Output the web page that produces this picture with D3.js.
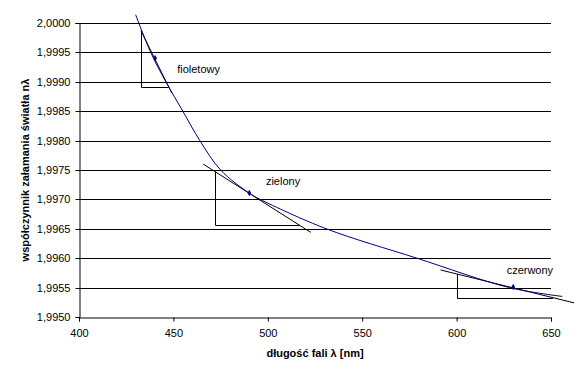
<!DOCTYPE html>
<html>
<head>
<meta charset="utf-8">
<script src="https://cdn.jsdelivr.net/npm/d3@7"></script>
<style>
  body { margin: 0; background: #fff; }
  svg { display: block; font-family: "Liberation Sans", Arial, sans-serif; }
</style>
</head>
<body>
<svg id="chart" width="580" height="385"></svg>
<script>
// wavelength [nm] and refractive index
const lambdas = [430, 438, 446, 455, 464, 475, 490, 496, 531, 579, 628, 656];
const indices = [2.00014, 1.9995, 1.9990, 1.9985, 1.9980, 1.9975, 1.99711, 1.9970, 1.9965, 1.9960, 1.9955, 1.99535];

// tangent points (markers) and their labels
const colourNames = ["fioletowy", "zielony", "czerwony"];
const markerLambdas = [440.3, 490.2, 630];
const markerIndices = [1.9994, 1.99711, 1.99551];

// tangent lines: start / end
const tangentStart = [[432.8, 1.99987], [465.8, 1.9976], [591.5, 1.9958]];
const tangentEnd = [[449.1, 1.99881], [522.7, 1.99644], [662.2, 1.99524]];

// triangles: vertical leg at x, from top to bottom, horizontal leg to xEnd
const triX = [432.8, 472, 600];
const triTop = [1.99987, 1.99747, 1.99573];
const triBottom = [1.99891, 1.99656, 1.99533];
const triXEnd = [447.6, 517, 651];

// label anchors (data coordinates)
const labelPos = [[452, 1.99915], [499, 1.99724], [626.5, 1.99573]];

const xTicks = [400, 450, 500, 550, 600, 650];
const yTicks = [1.995, 1.9955, 1.996, 1.9965, 1.997, 1.9975, 1.998, 1.9985, 1.999, 1.9995, 2.0];

const svg = d3.select("#chart");
const x = d3.scaleLinear().domain([400, 650]).range([79, 551]);
const y = d3.scaleLinear().domain([1.995, 2.0]).range([317, 23]);
const fmt = (v) => d3.format(".4f")(v).replace(".", ",");

// gridlines
svg.append("g")
  .selectAll("line")
  .data(yTicks.slice(1))
  .join("line")
  .attr("x1", x(400))
  .attr("x2", x(650))
  .attr("y1", (d) => Math.round(y(d)) + 0.5)
  .attr("y2", (d) => Math.round(y(d)) + 0.5)
  .attr("stroke", "#000")
  .attr("stroke-width", 1);

// axes
const yAxis = svg.append("g")
  .attr("transform", `translate(${Math.round(x(400)) + 0.5},0)`)
  .call(d3.axisLeft(y).tickValues(yTicks).tickFormat(fmt).tickSize(4).tickPadding(5));
const xAxis = svg.append("g")
  .attr("transform", `translate(0,${Math.round(y(1.995)) + 0.5})`)
  .call(d3.axisBottom(x).tickValues(xTicks).tickSize(4).tickPadding(8));

for (const axis of [yAxis, xAxis]) {
  axis.select(".domain").attr("stroke", "#000");
  axis.selectAll(".tick line").attr("stroke", "#000");
  axis.selectAll("text")
    .attr("fill", "#000")
    .style("font-size", "11px")
    .style("font-family", "'Liberation Sans', Arial, sans-serif");
}
yAxis.selectAll(".tick line").attr("y1", 0.5).attr("y2", 0.5);
yAxis.selectAll(".tick").attr("transform", (d) => `translate(0,${Math.round(y(d))})`);

// tangent triangles
const tri = svg.append("g").attr("fill", "none").attr("stroke", "#000").attr("stroke-width", 1);
tri.selectAll("path.leg")
  .data(triX)
  .join("path")
  .attr("class", "leg")
  .attr("d", (d, i) => {
    const vx = Math.round(x(d)) + 0.5;
    const by = Math.round(y(triBottom[i])) + 0.5;
    return `M${vx},${y(triTop[i])}V${by}H${x(triXEnd[i])}`;
  });
tri.selectAll("line.tangent")
  .data(tangentStart)
  .join("line")
  .attr("class", "tangent")
  .attr("x1", (d) => x(d[0]))
  .attr("y1", (d) => y(d[1]))
  .attr("x2", (d, i) => x(tangentEnd[i][0]))
  .attr("y2", (d, i) => y(tangentEnd[i][1]));

// dispersion curve
const line = d3.line()
  .x((d) => x(d[0]))
  .y((d) => y(d[1]))
  .curve(d3.curveCatmullRom.alpha(0.5));
svg.append("path")
  .datum(d3.zip(lambdas, indices))
  .attr("fill", "none")
  .attr("stroke", "#000080")
  .attr("stroke-width", 1)
  .attr("d", line);

// markers
svg.append("g")
  .selectAll("path")
  .data(d3.zip(markerLambdas, markerIndices))
  .join("path")
  .attr("transform", (d) => `translate(${x(d[0])},${y(d[1])})`)
  .attr("d", d3.symbol(d3.symbolDiamond, 12))
  .attr("fill", "#000080");

// labels
svg.append("g")
  .selectAll("text")
  .data(colourNames)
  .join("text")
  .attr("x", (d, i) => x(labelPos[i][0]))
  .attr("y", (d, i) => y(labelPos[i][1]))
  .attr("font-size", 11)
  .attr("fill", "#000")
  .text((d) => d);

// axis titles
svg.append("text")
  .attr("x", (x(400) + x(650)) / 2)
  .attr("y", 357)
  .attr("text-anchor", "middle")
  .attr("font-size", 11)
  .attr("font-weight", "bold")
  .text("długość fali λ [nm]");
svg.append("text")
  .attr("transform", `translate(29,${(y(1.995) + y(2.0)) / 2}) rotate(-90)`)
  .attr("text-anchor", "middle")
  .attr("font-size", 11)
  .attr("font-weight", "bold")
  .text("współczynnik załamania światła nλ");
</script>
</body>
</html>
